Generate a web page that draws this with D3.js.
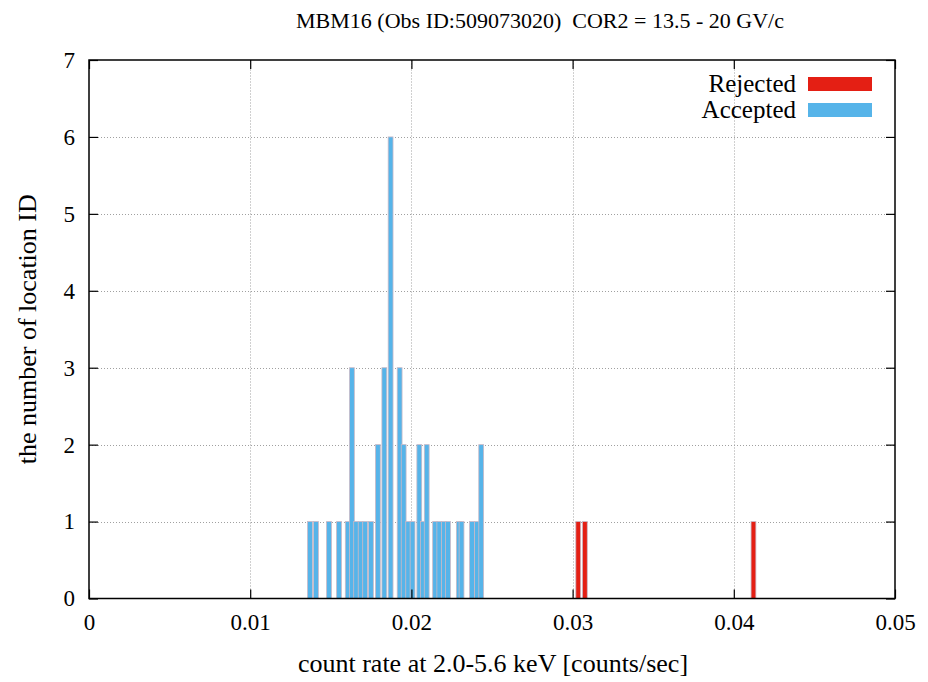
<!DOCTYPE html>
<html>
<head>
<meta charset="utf-8">
<script src="https://cdn.jsdelivr.net/npm/d3@7"></script>
<style>
  html, body { margin: 0; padding: 0; background: #fff; }
  svg { display: block; font-family: "Liberation Serif", "DejaVu Serif", serif; }
  text { white-space: pre; }
</style>
</head>
<body>
<svg id="chart" width="928" height="682"></svg>
<script>
// Histogram bins: count rate (bin centre) and number of location IDs
const acceptedRates = [
  0.01371, 0.01408, 0.01489, 0.01551, 0.01605, 0.01631, 0.01657, 0.01685,
  0.01713, 0.01749, 0.01792, 0.01832, 0.01871, 0.01927, 0.01952, 0.01980,
  0.02007, 0.02049, 0.02072, 0.02095, 0.02147, 0.02173, 0.02201, 0.02227,
  0.02294, 0.02311, 0.02376, 0.02407, 0.02433
];
const acceptedCounts = [
  1, 1, 1, 1, 1, 3, 1, 1,
  1, 1, 2, 3, 6, 3, 2, 1,
  1, 2, 1, 2, 1, 1, 1, 1,
  1, 1, 1, 1, 2
];
const rejectedRates = [0.03035, 0.03076, 0.04122];
const rejectedCounts = [1, 1, 1];

const xTicks = [0, 0.01, 0.02, 0.03, 0.04, 0.05];
const xTickLabels = ["0", "0.01", "0.02", "0.03", "0.04", "0.05"];
const yTicks = [0, 1, 2, 3, 4, 5, 6, 7];
const binWidth = 0.0003;

const titleText = "MBM16 (Obs ID:509073020)  COR2 = 13.5 - 20 GV/c";
const xLabel = "count rate at 2.0-5.6 keV [counts/sec]";
const yLabel = "the number of location ID";
const seriesNames = ["Rejected", "Accepted"];
const seriesColors = ["#e41f14", "#56b4e9"];

const svg = d3.select("#chart");
const margin = { left: 89, right: 33, top: 60, bottom: 83.5 };
const W = 928, H = 682;

const x = d3.scaleLinear().domain([0, 0.05]).range([margin.left, W - margin.right]);
const y = d3.scaleLinear().domain([0, 7]).range([H - margin.bottom, margin.top]);

// grid
const grid = svg.append("g").attr("stroke", "#a0a0a0").attr("stroke-width", 1)
  .attr("stroke-dasharray", "1,2");
grid.selectAll("line.gx").data(xTicks.slice(1, -1)).join("line")
  .attr("x1", d => Math.round(x(d)) + 0.5).attr("x2", d => Math.round(x(d)) + 0.5)
  .attr("y1", y(0)).attr("y2", y(7));
grid.selectAll("line.gy").data(yTicks.slice(1, -1)).join("line")
  .attr("y1", d => Math.round(y(d)) + 0.5).attr("y2", d => Math.round(y(d)) + 0.5)
  .attr("x1", x(0)).attr("x2", x(0.05));

// bars
function drawBars(rates, counts, color) {
  const data = rates.map((r, i) => ({ r, c: counts[i] }));
  svg.append("g").selectAll("rect").data(data).join("rect")
    .attr("x", d => x(d.r - binWidth / 2))
    .attr("width", d => x(d.r + binWidth / 2) - x(d.r - binWidth / 2))
    .attr("y", d => y(d.c))
    .attr("height", d => y(0) - y(d.c))
    .attr("fill", color)
    .attr("stroke", "#c9b9c6")
    .attr("stroke-width", 0.8);
}
drawBars(acceptedRates, acceptedCounts, seriesColors[1]);
drawBars(rejectedRates, rejectedCounts, seriesColors[0]);

// axes (ticks inward, mirrored on top and right)
const tickLen = 9;
const xb = svg.append("g").attr("transform", `translate(0,${y(0)})`)
  .call(d3.axisBottom(x).tickValues(xTicks).tickSize(-tickLen).tickPadding(15)
    .tickFormat((d, i) => xTickLabels[i]));
const xt = svg.append("g").attr("transform", `translate(0,${y(7)})`)
  .call(d3.axisTop(x).tickValues(xTicks).tickSize(-tickLen).tickFormat(""));
const yl = svg.append("g").attr("transform", `translate(${x(0)},0)`)
  .call(d3.axisLeft(y).tickValues(yTicks).tickSize(-tickLen).tickPadding(14)
    .tickFormat(d3.format("d")));
const yr = svg.append("g").attr("transform", `translate(${x(0.05)},0)`)
  .call(d3.axisRight(y).tickValues(yTicks).tickSize(-tickLen).tickFormat(""));

[xb, xt, yl, yr].forEach(g => {
  g.select(".domain").remove();
  g.selectAll("line").attr("stroke", "#000").attr("stroke-width", 1.2);
  g.selectAll("text").attr("font-family", "Liberation Serif, serif").attr("font-size", 23).attr("fill", "#000");
});

// plot border
svg.append("rect")
  .attr("x", x(0)).attr("y", y(7))
  .attr("width", x(0.05) - x(0)).attr("height", y(0) - y(7))
  .attr("fill", "none").attr("stroke", "#000").attr("stroke-width", 1.5);

// titles
svg.append("text").attr("x", 540).attr("y", 28).attr("text-anchor", "middle")
  .attr("font-size", 22).text(titleText);
svg.append("text").attr("x", 493).attr("y", 672).attr("text-anchor", "middle")
  .attr("font-size", 26).text(xLabel);
svg.append("text").attr("transform", `translate(36,${(y(0) + y(7)) / 2}) rotate(-90)`)
  .attr("text-anchor", "middle").attr("font-size", 26).text(yLabel);

// legend
const legend = svg.append("g");
seriesNames.forEach((name, i) => {
  const cy = 84 + i * 26;
  legend.append("text").attr("x", 796).attr("y", cy + 8).attr("text-anchor", "end")
    .attr("font-size", 25).text(name);
  legend.append("rect").attr("x", 808).attr("y", cy - 7).attr("width", 64).attr("height", 14)
    .attr("fill", seriesColors[i]);
});
</script>
</body>
</html>
